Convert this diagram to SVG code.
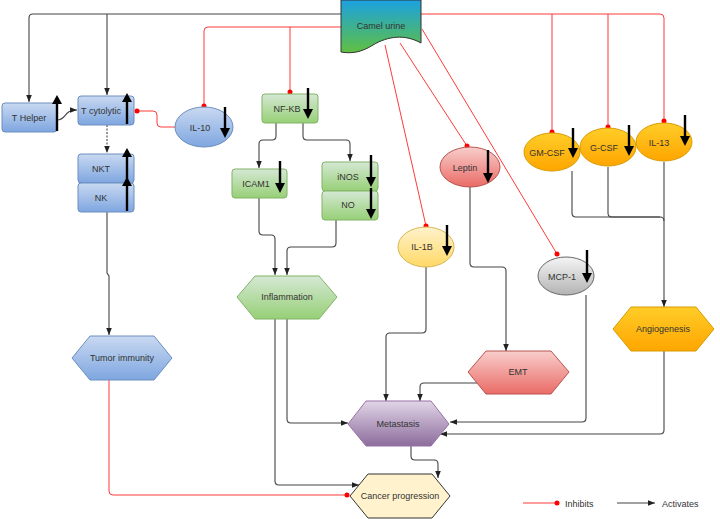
<svg xmlns="http://www.w3.org/2000/svg" width="720" height="519" viewBox="0 0 720 519">
<defs>
<linearGradient id="gBlue" x1="0" y1="0" x2="0" y2="1"><stop offset="0" stop-color="#c9d9f1"/><stop offset="1" stop-color="#7ea6e0"/></linearGradient>
<linearGradient id="gGreen" x1="0" y1="0" x2="0" y2="1"><stop offset="0" stop-color="#d5e8d4"/><stop offset="1" stop-color="#97d077"/></linearGradient>
<linearGradient id="gRed" x1="0" y1="0" x2="0" y2="1"><stop offset="0" stop-color="#f8cecc"/><stop offset="1" stop-color="#ea6b66"/></linearGradient>
<linearGradient id="gYel" x1="0" y1="0" x2="0" y2="1"><stop offset="0" stop-color="#fff2cc"/><stop offset="1" stop-color="#ffd966"/></linearGradient>
<linearGradient id="gGray" x1="0" y1="0" x2="0" y2="1"><stop offset="0" stop-color="#f5f5f5"/><stop offset="1" stop-color="#b3b3b3"/></linearGradient>
<linearGradient id="gPur" x1="0" y1="0" x2="0" y2="1"><stop offset="0" stop-color="#e1d5e7"/><stop offset="1" stop-color="#8c6c9c"/></linearGradient>
<linearGradient id="gOr" x1="0" y1="0" x2="0" y2="1"><stop offset="0" stop-color="#ffcd28"/><stop offset="1" stop-color="#ffa500"/></linearGradient>
<linearGradient id="gCamel" x1="0" y1="0" x2="0" y2="1"><stop offset="0" stop-color="#1ba1e2"/><stop offset="1" stop-color="#60c040"/></linearGradient>
<marker id="arr" viewBox="0 0 10 10" refX="10" refY="5" markerWidth="7" markerHeight="7" markerUnits="userSpaceOnUse" orient="auto"><path d="M0,1 L10,5 L0,9 z" fill="#222"/></marker>
<marker id="dot" viewBox="0 0 12 12" refX="6" refY="6" markerWidth="6" markerHeight="6" markerUnits="userSpaceOnUse"><circle cx="6" cy="6" r="5" fill="#ff0000"/></marker>
</defs>
<style>
text{font-family:"Liberation Sans",Arial,sans-serif;font-size:9px;fill:#333;text-anchor:middle;dominant-baseline:central}
.blue{fill:url(#gBlue);stroke:#6c8ebf}
.green{fill:url(#gGreen);stroke:#82b366}
.red{fill:url(#gRed);stroke:#b85450}
.yel{fill:url(#gYel);stroke:#d6b656}
.gray{fill:url(#gGray);stroke:#666}
.pur{fill:url(#gPur);stroke:#9673a6}
.or{fill:url(#gOr);stroke:#d79b00}
.cp{fill:#fff2cc;stroke:#333}
.c{fill:none;stroke:#444;stroke-width:1.1;marker-end:url(#arr)}
.cn{fill:none;stroke:#444;stroke-width:1.1}
.r{fill:none;stroke:#ff3b3b;stroke-width:1;marker-end:url(#dot)}
.ar{stroke:#000;stroke-width:2.4;fill:none}
.ah{fill:#000}
</style>

<g id="connectors">
  <path class="c" d="M341,14 H33 Q29,14 29,18 V102"/>
  <path class="c" d="M107,14 V95"/>
  <path class="r" d="M341,27 H208 Q204,27 204,31 V106"/>
  <path class="r" d="M290,27 V92"/>
  <path class="r" d="M421,14 H660 Q664,14 664,18 V121"/>
  <path class="r" d="M552,14 V132"/>
  <path class="r" d="M608,14 V127"/>
  <path class="r" d="M385,45 L426,226"/>
  <path class="r" d="M400,43 L467,146"/>
  <path class="r" d="M422,29 L557,254"/>
  <path class="c" d="M57,120 C67,120 63,110 77,110"/>
  <path class="r" d="M176,127 H161 Q157,127 157,123 V115 Q157,111 153,111 H137"/>
  <path class="c" d="M107,125 V153" stroke-dasharray="2,1.5"/>
  <path class="c" d="M107,212 V273 L109,276 V335"/>
  <path class="r" d="M109,380 V491 Q109,495 113,495 H347"/>
  <path class="c" d="M276,123 V136 Q276,140 272,140 H263 Q259,140 259,144 V168"/>
  <path class="c" d="M303,123 V136 Q303,140 307,140 H346 Q350,140 350,144 V161"/>
  <path class="c" d="M259,198 V231 Q259,235 263,235 H271 Q275,235 275,239 V275"/>
  <path class="c" d="M336,220 V243 Q336,247 332,247 H291 Q287,247 287,251 V275"/>
  <path class="c" d="M287,319 V419 Q287,423 291,423 H348"/>
  <path class="c" d="M275,319 V481 Q275,485 279,485 H359"/>
  <path class="c" d="M411,446 V456 Q411,460 415,460 H434 Q438,460 438,464 V478"/>
  <path class="c" d="M426,267 V329 Q426,333 422,333 H390 Q386,333 386,337 V401"/>
  <path class="c" d="M470,187 V263 Q470,267 474,267 H502 Q506,267 506,271 V351"/>
  <path class="c" d="M477,383 H424 Q420,383 420,387 V401"/>
  <path class="c" d="M586,295 V418 Q586,422 582,422 H450"/>
  <path class="cn" d="M572,171 V213 Q572,217 576,217 H660 Q664,217 664,221"/>
  <path class="cn" d="M608,167 V213 Q608,217 612,217 H660"/>
  <path class="c" d="M664,162 V307"/>
  <path class="c" d="M664,351 V430 Q664,434 660,434 H440"/>
</g>

<g id="camel-urine">
  <path d="M341,0 H421 V43 C405,34 388,36 373,45 C362,52 352,54 341,52 Z" fill="url(#gCamel)" stroke="#333" stroke-width="1"/>
  <text x="381" y="26">Camel urine</text>
</g>

<g id="t-helper">
  <rect class="blue" x="2" y="103" width="55" height="29" rx="3"/>
  <text x="29" y="118">T Helper</text>
  <path class="ar" d="M57,131 V102"/><path class="ah" d="M52,104 L57,95 L62,104 Z"/>
</g>
<g id="t-cytolytic">
  <rect class="blue" x="78" y="96" width="56" height="29" rx="3"/>
  <text x="101" y="111">T cytolytic</text>
  <path class="ar" d="M127,124 V100"/><path class="ah" d="M122,102 L127,93 L132,102 Z"/>
</g>
<g id="il-10">
  <ellipse class="blue" cx="204" cy="127" rx="29" ry="20"/>
  <text x="200" y="128">IL-10</text>
  <path class="ar" d="M225,107 V130"/><path class="ah" d="M220,128 L225,138 L230,128 Z"/>
</g>
<g id="nkt">
  <rect class="blue" x="78" y="154" width="56" height="29" rx="3"/>
  <text x="101" y="169">NKT</text>
  <path class="ar" d="M127,183 V155"/><path class="ah" d="M122,157 L127,148 L132,157 Z"/>
</g>
<g id="nk">
  <rect class="blue" x="78" y="183" width="56" height="29" rx="3"/>
  <text x="101" y="198">NK</text>
  <path class="ar" d="M127,211 V184"/><path class="ah" d="M122,186 L127,177 L132,186 Z"/>
</g>
<g id="nf-kb">
  <rect class="green" x="262" y="94" width="56" height="29" rx="3"/>
  <text x="287" y="109">NF-KB</text>
  <path class="ar" d="M308,88 V111"/><path class="ah" d="M303,109 L308,119 L313,109 Z"/>
</g>
<g id="icam1">
  <rect class="green" x="232" y="169" width="55" height="29" rx="3"/>
  <text x="256" y="184">ICAM1</text>
  <path class="ar" d="M280,161 V185"/><path class="ah" d="M275,183 L280,193 L285,183 Z"/>
</g>
<g id="inos">
  <rect class="green" x="322" y="162" width="56" height="29" rx="3"/>
  <text x="348" y="177">iNOS</text>
  <path class="ar" d="M371,155 V179"/><path class="ah" d="M366,177 L371,187 L376,177 Z"/>
</g>
<g id="no">
  <rect class="green" x="322" y="191" width="56" height="29" rx="3"/>
  <text x="348" y="205">NO</text>
  <path class="ar" d="M371,188 V211"/><path class="ah" d="M366,209 L371,219 L376,209 Z"/>
</g>
<g id="leptin">
  <ellipse class="red" cx="470" cy="167" rx="30" ry="20"/>
  <text x="465" y="168">Leptin</text>
  <path class="ar" d="M488,150 V175"/><path class="ah" d="M483,173 L488,183 L493,173 Z"/>
</g>
<g id="il-1b">
  <ellipse class="yel" cx="426" cy="247" rx="28" ry="20"/>
  <text x="422" y="247">IL-1B</text>
  <path class="ar" d="M447,225 V248"/><path class="ah" d="M442,246 L447,256 L452,246 Z"/>
</g>
<g id="mcp-1">
  <ellipse class="gray" cx="566" cy="276" rx="28" ry="19"/>
  <text x="562" y="277">MCP-1</text>
  <path class="ar" d="M587,250 V275"/><path class="ah" d="M582,273 L587,283 L592,273 Z"/>
</g>
<g id="gm-csf">
  <ellipse class="or" cx="552" cy="152" rx="28" ry="19"/>
  <text x="547" y="153">GM-CSF</text>
  <path class="ar" d="M573,128 V150"/><path class="ah" d="M568,148 L573,158 L578,148 Z"/>
</g>
<g id="g-csf">
  <ellipse class="or" cx="608" cy="147" rx="28" ry="19"/>
  <text x="604" y="148">G-CSF</text>
  <path class="ar" d="M629,125 V148"/><path class="ah" d="M624,146 L629,156 L634,146 Z"/>
</g>
<g id="il-13">
  <ellipse class="or" cx="664" cy="142" rx="28" ry="19"/>
  <text x="659" y="143">IL-13</text>
  <path class="ar" d="M685,115 V138"/><path class="ah" d="M680,136 L685,146 L690,136 Z"/>
</g>

<g id="tumor-immunity">
  <path class="blue" d="M90,336 H154 L172,358 L154,380 H90 L72,358 Z"/>
  <text x="122" y="358">Tumor immunity</text>
</g>
<g id="inflammation">
  <path class="green" d="M255,276 H319 L337,297 L319,319 H255 L237,297 Z"/>
  <text x="287" y="297">Inflammation</text>
</g>
<g id="emt">
  <path class="red" d="M486,351 H551 L569,372 L551,394 H486 L468,372 Z"/>
  <text x="518" y="372">EMT</text>
</g>
<g id="angiogenesis">
  <path class="or" d="M631,307 H696 L714,329 L696,351 H631 L613,329 Z"/>
  <text x="663" y="329">Angiogenesis</text>
</g>
<g id="metastasis">
  <path class="pur" d="M366,401 H431 L449,424 L431,446 H366 L348,424 Z"/>
  <text x="398" y="424">Metastasis</text>
</g>
<g id="cancer-progression">
  <path class="cp" d="M368,474 H432 L450,496 L432,518 H368 L350,496 Z"/>
  <text x="400" y="496">Cancer progression</text>
</g>

<g id="legend">
  <path class="r" d="M523,503 H557"/>
  <text x="565" y="504" style="text-anchor:start">Inhibits</text>
  <path class="c" d="M617,503 H655"/>
  <text x="662" y="504" style="text-anchor:start">Activates</text>
</g>
</svg>
